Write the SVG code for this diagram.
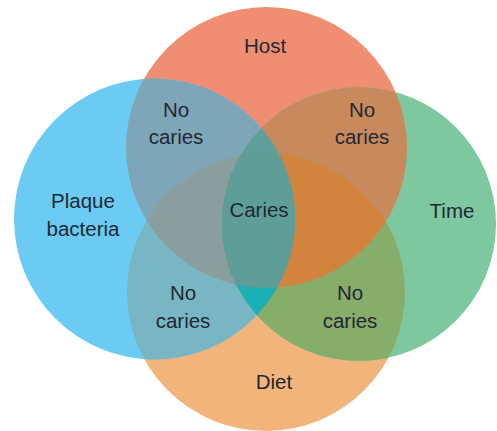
<svg xmlns="http://www.w3.org/2000/svg" width="497" height="431" viewBox="0 0 497 431">
<style>
text{font-family:"Liberation Sans",Arial,sans-serif;font-size:20.5px;fill:#1e2833;text-anchor:middle}
</style>
<defs>
<clipPath id="cB"><circle cx="154.5" cy="219" r="140.5"/></clipPath>
<clipPath id="cG"><circle cx="359" cy="224" r="137"/></clipPath>
<clipPath id="cH"><circle cx="266.5" cy="147.5" r="140.5"/></clipPath>
<clipPath id="cD"><circle cx="266" cy="292" r="139"/></clipPath>
</defs>
<rect width="497" height="431" fill="#ffffff"/>
<g id="host"><circle cx="266.5" cy="147.5" r="140.5" fill="#EF8E72"/><text x="265" y="53">Host</text></g>
<g id="diet"><circle cx="266" cy="292" r="139" fill="#F1B57B"/><text x="274" y="389">Diet</text></g>
<g id="plaque"><circle cx="154.5" cy="219" r="140.5" fill="#6BCBF3"/><text x="83" y="208">Plaque</text><text x="83" y="236">bacteria</text></g>
<g id="time"><circle cx="359" cy="224" r="137" fill="#7DC89F"/><text x="452" y="218">Time</text></g>
<g id="overlaps">
<circle cx="266.5" cy="147.5" r="140.5" fill="#7FA6B8" clip-path="url(#cB)"/>
<circle cx="266.5" cy="147.5" r="140.5" fill="#C88A5C" clip-path="url(#cG)"/>
<circle cx="266" cy="292" r="139" fill="#79B6C3" clip-path="url(#cB)"/>
<circle cx="266" cy="292" r="139" fill="#87AD6B" clip-path="url(#cG)"/>
<g clip-path="url(#cB)"><circle cx="266" cy="292" r="139" fill="#8A9E9D" clip-path="url(#cH)"/></g>
<g clip-path="url(#cG)"><circle cx="266" cy="292" r="139" fill="#D2843F" clip-path="url(#cH)"/></g>
<g clip-path="url(#cB)"><circle cx="266" cy="292" r="139" fill="#1BB0B5" clip-path="url(#cG)"/></g>
<g clip-path="url(#cB)"><circle cx="266.5" cy="147.5" r="140.5" fill="#5E9F9B" clip-path="url(#cG)"/></g>
<g clip-path="url(#cB)"><g clip-path="url(#cG)"><circle cx="266" cy="292" r="139" fill="#5F9E98" clip-path="url(#cH)"/></g></g>
</g>
<g id="labels">
<text x="176" y="117">No</text><text x="176" y="144">caries</text>
<text x="362" y="117">No</text><text x="362" y="144">caries</text>
<text x="259" y="217">Caries</text>
<text x="183" y="300">No</text><text x="183" y="328">caries</text>
<text x="350" y="300">No</text><text x="350" y="328">caries</text>
</g>
</svg>
